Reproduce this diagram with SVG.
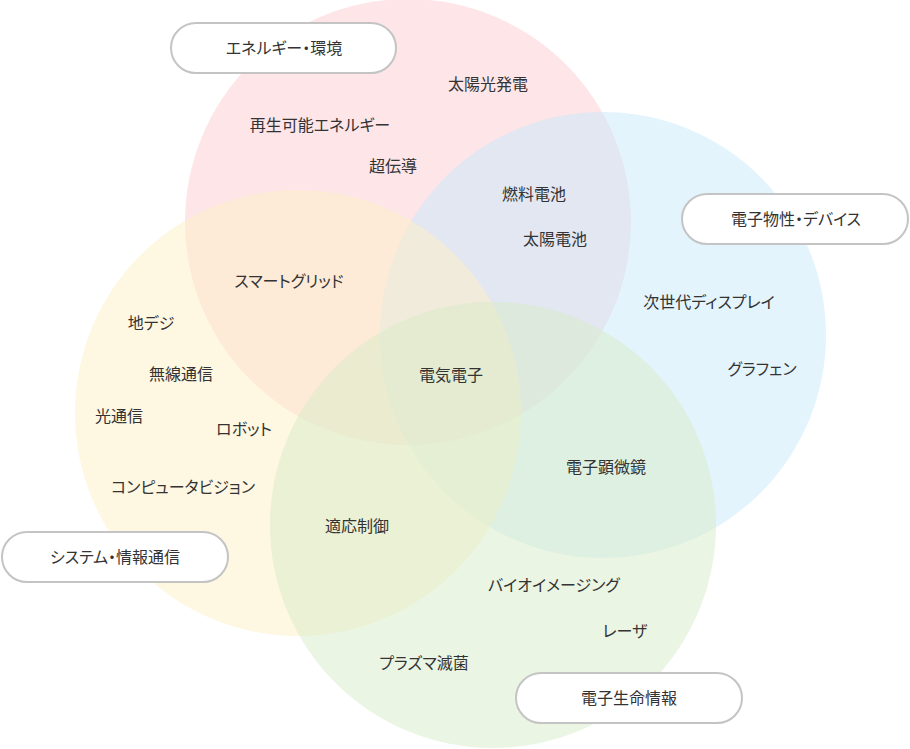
<svg xmlns="http://www.w3.org/2000/svg" width="910" height="749" viewBox="0 0 910 749">
<style>
.c{fill-opacity:0.5}
.p{fill:#fff;stroke:#c4c4c4;stroke-width:2}
text{font-family:"Noto Sans CJK JP","Noto Sans",sans-serif;font-size:16px;fill:#333;text-anchor:middle;dominant-baseline:central;font-feature-settings:"palt"}
</style>
<rect width="910" height="749" fill="#fff"/>
<g id="circles">
<circle id="c-energy" class="c" cx="408" cy="222" r="223" fill="#fbcbd1"/>
<circle id="c-device" class="c" cx="603" cy="335" r="223" fill="#c8e9f9"/>
<circle id="c-system" class="c" cx="298" cy="413" r="223" fill="#fdefc5"/>
<circle id="c-life" class="c" cx="493" cy="525" r="223" fill="#d7ebc7"/>
</g>
<g id="items">
<text x="488" y="83">太陽光発電</text>
<text x="320" y="124">再生可能エネルギー</text>
<text x="393" y="165">超伝導</text>
<text x="534" y="193">燃料電池</text>
<text x="555" y="238">太陽電池</text>
<text x="289" y="280">スマートグリッド</text>
<text x="709" y="301">次世代ディスプレイ</text>
<text x="151" y="322">地デジ</text>
<text x="181" y="373">無線通信</text>
<text x="451" y="374">電気電子</text>
<text x="762" y="368">グラフェン</text>
<text x="119" y="415">光通信</text>
<text x="244" y="428">ロボット</text>
<text x="606" y="466">電子顕微鏡</text>
<text x="183" y="486">コンピュータビジョン</text>
<text x="357" y="525">適応制御</text>
<text x="554" y="584">バイオイメージング</text>
<text x="625" y="630">レーザ</text>
<text x="424" y="662">プラズマ滅菌</text>
</g>
<g id="label-energy"><rect class="p" x="171" y="23" width="225" height="50" rx="25"/><text x="284" y="47">エネルギー・環境</text></g>
<g id="label-device"><rect class="p" x="682" y="194" width="226" height="50" rx="25"/><text x="796" y="218">電子物性・デバイス</text></g>
<g id="label-system"><rect class="p" x="2" y="532" width="226" height="50" rx="25"/><text x="115" y="556">システム・情報通信</text></g>
<g id="label-life"><rect class="p" x="516" y="673" width="226" height="50" rx="25"/><text x="629" y="697">電子生命情報</text></g>
<g id="connectors"/>
</svg>
